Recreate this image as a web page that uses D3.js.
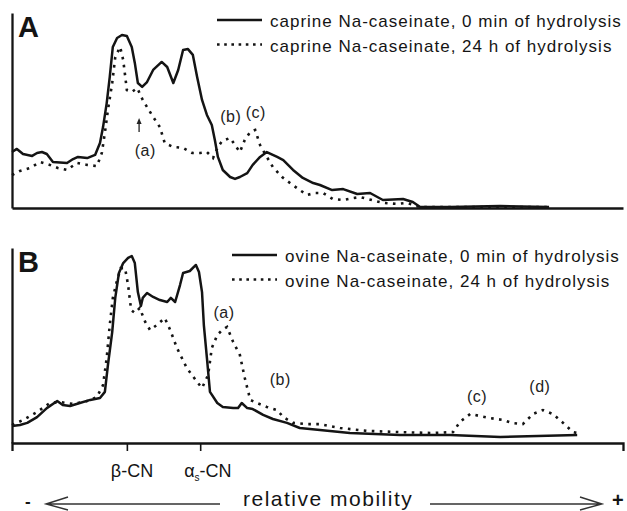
<!DOCTYPE html>
<html>
<head>
<meta charset="utf-8">
<script src="https://cdn.jsdelivr.net/npm/d3@7"></script>
<style>
  body { margin: 0; background: #fff; }
  svg { display: block; font-family: "Liberation Sans", Arial, sans-serif; }
</style>
</head>
<body>
<svg width="627" height="511"></svg>
<script>
// [relative mobility, intensity]
const caprine0 = [
  [0, 28.7], [0.8, 30.3], [1.8, 27.7], [3.3, 26.7], [4.1, 28.2], [4.9, 28.7], [5.7, 27.7],
  [6.7, 23.6], [9.0, 23.1], [10.0, 25.1], [10.8, 26.2], [12.3, 25.6], [13.6, 27.2],
  [14.4, 33.3], [14.9, 41.5], [15.5, 53.8], [16.0, 67.2], [16.5, 82.6], [17.2, 87.2],
  [18.0, 88.7], [18.8, 88.2], [19.6, 82.6], [20.1, 74.4], [20.6, 64.1], [21.3, 62.1],
  [22.1, 64.6], [23.1, 70.8], [24.5, 74.9], [25.4, 72.3], [26.4, 64.1], [27.2, 70.8],
  [28.0, 81.0], [28.8, 81.5], [29.6, 78.5], [30.3, 67.2], [31.1, 55.4], [31.9, 47.7],
  [32.7, 42.6], [33.2, 34.9], [33.7, 26.2], [34.5, 19.5], [35.7, 15.9], [36.5, 14.9],
  [37.3, 15.9], [38.5, 17.9], [39.4, 22.1], [40.6, 26.2], [41.7, 28.7], [43.4, 26.2],
  [44.4, 24.6], [46.0, 19.5], [47.6, 15.4], [49.3, 12.8], [50.4, 11.8], [52.4, 9.2],
  [54.2, 9.7], [56.5, 7.2], [58.6, 7.7], [60.7, 4.1], [64.0, 4.6], [65.6, 3.1],
  [66.8, 0.5], [71.7, 0.5], [79.9, 1.0], [87.9, 0.5]
];
const caprine24 = [
  [0, 16.9], [1.3, 19.0], [2.9, 20.5], [4.6, 23.6], [6.2, 22.1], [7.5, 20.5], [9.0, 19.5],
  [10.6, 23.1], [12.3, 22.1], [13.9, 21.5], [14.7, 28.2], [15.2, 38.5], [15.7, 50.3],
  [16.4, 64.1], [16.9, 77.4], [17.7, 82.6], [18.2, 75.9], [18.8, 60.5], [19.6, 59.5],
  [20.5, 61.5], [21.4, 55.4], [22.9, 47.7], [24.2, 41.5], [25.0, 33.3], [26.4, 31.3],
  [28.0, 30.8], [29.5, 28.2], [30.8, 28.2], [31.9, 28.7], [32.9, 25.6], [33.7, 31.3],
  [34.4, 34.4], [35.7, 35.9], [36.5, 32.3], [37.3, 28.7], [38.1, 34.9], [39.0, 39.0],
  [39.8, 40.0], [40.6, 32.3], [41.7, 26.2], [42.7, 21.0], [44.2, 15.9], [45.5, 12.8],
  [47.1, 9.2], [48.3, 6.7], [49.6, 7.7], [50.9, 7.7], [52.5, 4.6], [54.2, 4.1],
  [55.8, 5.1], [57.0, 5.6], [60.7, 2.6], [63.0, 2.1], [64.6, 2.6], [66.8, 0.5], [87.7, 0.5]
];
const ovine0 = [
  [0, 8.7], [1.3, 9.2], [2.5, 10.3], [4.1, 13.3], [5.7, 17.9], [7.4, 21.5], [8.3, 19.5],
  [9.5, 19.0], [11.1, 20.5], [12.8, 22.1], [14.4, 23.1], [15.2, 26.2], [15.7, 40.0],
  [16.4, 56.9], [16.9, 74.4], [17.5, 87.2], [18.2, 92.3], [19.0, 94.9], [19.6, 95.9],
  [20.1, 92.3], [20.6, 77.4], [21.1, 70.3], [21.4, 74.4], [22.1, 76.9], [23.1, 74.9],
  [24.2, 73.3], [25.4, 72.3], [26.0, 74.4], [26.7, 72.3], [27.5, 81.0], [28.0, 87.2],
  [29.1, 88.2], [30.1, 91.3], [30.6, 87.7], [31.1, 77.4], [31.4, 60.5], [31.9, 43.6],
  [32.4, 26.2], [33.6, 20.5], [34.5, 18.5], [36.2, 17.9], [37.0, 17.9], [37.6, 20.5],
  [38.5, 17.9], [39.4, 17.4], [41.1, 14.4], [42.7, 12.3], [45.0, 10.3], [47.1, 7.7],
  [50.4, 6.7], [55.3, 5.1], [63.5, 4.1], [71.7, 4.1], [79.9, 3.1], [92.5, 4.1]
];
const ovine24 = [
  [0, 9.2], [1.8, 11.8], [4.1, 15.9], [6.2, 20.5], [7.9, 21.0], [10.0, 20.0], [12.3, 21.5],
  [13.9, 23.6], [14.9, 29.7], [15.5, 43.6], [16.0, 60.5], [16.5, 74.4], [17.2, 83.6],
  [17.8, 89.7], [18.5, 89.7], [19.0, 81.0], [19.5, 68.2], [20.1, 66.7], [20.9, 69.2],
  [21.8, 62.1], [22.6, 57.9], [23.7, 60.5], [25.0, 64.1], [25.9, 57.9], [27.0, 48.7],
  [28.6, 38.5], [30.3, 31.3], [31.1, 28.2], [32.1, 34.9], [32.7, 48.7], [33.6, 55.4],
  [34.4, 57.9], [35.2, 59.5], [36.2, 51.8], [37.3, 45.1], [38.1, 33.3], [39.0, 22.1],
  [40.1, 20.5], [41.7, 18.5], [43.4, 16.9], [44.4, 13.3], [46.0, 10.3], [48.3, 9.7],
  [50.4, 9.7], [53.7, 7.7], [58.1, 6.2], [63.5, 5.6], [68.9, 5.1], [72.2, 5.6],
  [73.3, 10.8], [75.0, 14.9], [76.6, 13.8], [78.2, 12.8], [80.4, 11.8], [81.8, 10.3],
  [83.6, 9.7], [85.3, 14.9], [86.9, 16.9], [88.5, 14.9], [90.2, 10.3], [91.8, 5.6], [92.5, 5.1]
];

const legendA = ["caprine Na-caseinate, 0 min of hydrolysis", "caprine Na-caseinate, 24 h of hydrolysis"];
const legendB = ["ovine Na-caseinate, 0 min of hydrolysis", "ovine Na-caseinate, 24 h of hydrolysis"];

const cnTicks = [18.8, 30.8];
const cnLabels = ["β", "α"];

// peak labels: [mobility, intensity, text]
const notesA = [[21.8, 26.7, "(a)"], [35.8, 44.1, "(b)"], [39.9, 46.2, "(c)"]];
const notesB = [[34.7, 64.1, "(a)"], [43.9, 29.7, "(b)"], [76.1, 21.0, "(c)"], [86.4, 26.2, "(d)"]];
const arrowA = [[20.8, 39.0], [20.8, 46.2]];

const svg = d3.select("svg");
const ink = "#141414";

const x = d3.scaleLinear().domain([0, 100]).range([12, 623]);

const panels = [
  { name: "A", top: 13, bottom: 208, s0: caprine0, s24: caprine24, legend: legendA, notes: notesA, legX: 217 },
  { name: "B", top: 248, bottom: 443, s0: ovine0, s24: ovine24, legend: legendB, notes: notesB, legX: 232 },
];

panels.forEach((p) => {
  const y = d3.scaleLinear().domain([0, 100]).range([p.bottom, p.top]);
  p.y = y;
  const g = svg.append("g");

  // axes
  const xAxis = d3.axisBottom(x).tickSizeOuter(0);
  if (p.name === "B") xAxis.tickValues(cnTicks).tickSize(8).tickFormat("");
  else xAxis.tickValues([]);
  const xa = g.append("g").attr("transform", `translate(0,${p.bottom})`).call(xAxis);
  xa.select(".domain").attr("stroke", ink).attr("stroke-width", 2.3);
  xa.selectAll(".tick line").attr("stroke", ink).attr("stroke-width", 1.6);

  const ya = g.append("g").attr("transform", `translate(${x(0)},0)`)
    .call(d3.axisLeft(y).tickValues([]).tickSizeOuter(0));
  ya.select(".domain").attr("stroke", ink).attr("stroke-width", 2.3);

  const line = d3.line().x((d) => x(d[0])).y((d) => y(d[1]));

  g.append("path").datum(p.s24).attr("d", line)
    .attr("fill", "none").attr("stroke", ink).attr("stroke-width", 2.6)
    .attr("stroke-dasharray", "2.6,5.4");
  g.append("path").datum(p.s0).attr("d", line)
    .attr("fill", "none").attr("stroke", ink).attr("stroke-width", 2.5)
    .attr("stroke-linejoin", "round");

  // panel letter
  g.append("text").attr("x", 18).attr("y", p.top + 24)
    .attr("font-size", 29).attr("font-weight", "bold").attr("fill", ink).text(p.name);

  // legend
  p.legend.forEach((t, i) => {
    const ly = p.top + 7 + i * 24.5;
    g.append("line").attr("x1", p.legX).attr("x2", p.legX + 45).attr("y1", ly).attr("y2", ly)
      .attr("stroke", ink).attr("stroke-width", 2.6)
      .attr("stroke-dasharray", i === 0 ? null : "2.6,4.6");
    g.append("text").attr("x", p.legX + 53).attr("y", ly + 7)
      .attr("font-size", 17).attr("letter-spacing", 1.0).attr("fill", ink).text(t);
  });

  // peak notes
  g.selectAll("text.note").data(p.notes).join("text").attr("class", "note")
    .attr("x", (d) => x(d[0])).attr("y", (d) => y(d[1]))
    .attr("text-anchor", "middle").attr("font-size", 16).attr("letter-spacing", 0.5)
    .attr("fill", "#222").text((d) => d[2]);
});

// little arrow under the caprine shoulder
{
  const y = panels[0].y;
  const [a0, a1] = arrowA;
  svg.append("line").attr("x1", x(a0[0])).attr("x2", x(a1[0]))
    .attr("y1", y(a0[1])).attr("y2", y(a1[1]) + 3)
    .attr("stroke", "#222").attr("stroke-width", 1.3);
  svg.append("path")
    .attr("d", `M${x(a1[0])},${y(a1[1])} l-2.5,6 l5,0 Z`).attr("fill", "#222");
}

// CN tick labels
const yTick = panels[1].bottom + 34;
cnTicks.forEach((t, i) => {
  const tx = svg.append("text").attr("x", x(t) - 16).attr("y", yTick)
    .attr("font-size", 18).attr("fill", ink);
  tx.append("tspan").text(cnLabels[i]);
  if (i === 1) tx.append("tspan").attr("font-size", 10).attr("dy", 4).text("s");
  tx.append("tspan").attr("dy", i === 1 ? -4 : 0).text("-CN");
});

// relative mobility arrow
const yArr = 504;
svg.append("text").attr("x", 25).attr("y", 507).attr("font-size", 17).attr("font-weight", "bold")
  .attr("fill", ink).text("-");
svg.append("text").attr("x", 612).attr("y", 506.5).attr("font-size", 20).attr("font-weight", "bold")
  .attr("fill", ink).text("+");
svg.append("text").attr("x", 243).attr("y", 506).attr("font-size", 21)
  .attr("letter-spacing", 1.5).attr("fill", ink).text("relative mobility");
svg.append("path").attr("d", `M220,${yArr} H46 M68,${yArr - 7} L46,${yArr} L68,${yArr + 6}`)
  .attr("fill", "none").attr("stroke", "#333").attr("stroke-width", 1.4);
svg.append("path").attr("d", `M430,${yArr} H602 M580,${yArr - 7} L602,${yArr} L580,${yArr + 6}`)
  .attr("fill", "none").attr("stroke", "#333").attr("stroke-width", 1.4);
</script>
</body>
</html>
